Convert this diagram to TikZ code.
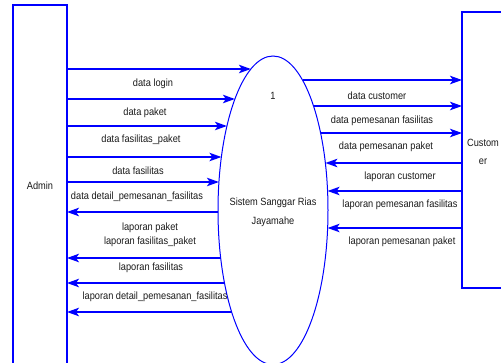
\documentclass[tikz,border=0pt]{standalone}
\usepackage{fontspec}
\setmainfont[FakeStretch=0.88]{Liberation Sans}
\usetikzlibrary{arrows.meta,shapes.geometric}
\definecolor{lineblue}{RGB}{0,0,255}
\definecolor{txt}{RGB}{25,25,25}
\tikzset{
  arr/.style={draw=lineblue,line width=1.5pt,-{Stealth[length=12pt,width=8.5pt,inset=3pt]}},
  lbl/.style={text=txt,font=\fontsize{10.5}{12}\selectfont,inner sep=0pt},
  ent/.style={draw=lineblue,line width=1.2pt}
}
\begin{document}
\begin{tikzpicture}[x=1pt,y=-1pt]
\useasboundingbox (0,0) rectangle (501,362);
\clip (0,0) rectangle (501,362);
% entities
\draw[ent] (13,400) -- (13,5) -- (67,5) -- (67,400);
\coordinate (admin) at (67,5);
\draw[ent] (520,12) -- (462,12) -- (462,288) -- (520,288);
\coordinate (cust) at (462,12);
\node[lbl] (adminlbl) at (40,186) {Admin};
\node[lbl,align=center,font=\fontsize{10.5}{18}\selectfont] (custlbl) at (483,152) {Custom\\er};
% process
\node[draw=lineblue,line width=1pt,ellipse,minimum width=110pt,minimum height=308.6pt,inner sep=0pt] (proc) at (273,210.3) {};
\node[lbl] (pnum) at (273,96) {1};
\node[lbl,align=center,font=\fontsize{10.5}{19}\selectfont] (pname) at (273,212.5) {Sistem Sanggar Rias\\Jayamahe};
% boundary points (left)
\coordinate (l1) at (250.9,69);
\coordinate (l2) at (234.9,99);
\coordinate (l3) at (226.9,126);
\coordinate (l4) at (221.4,157);
\coordinate (l5) at (218.9,182);
\coordinate (l6) at (218.0,212);
\coordinate (l7) at (220.7,258);
\coordinate (l8) at (224.5,283);
\coordinate (l9) at (231.6,312);
% boundary points (right)
\coordinate (r1) at (302.5,80);
\coordinate (r2) at (313.5,106);
\coordinate (r3) at (320.6,133);
\coordinate (r4) at (325.4,163);
\coordinate (r5) at (327.6,191);
\coordinate (r6) at (327.6,228);
% Admin -> process
\draw[arr] (admin |- l1) -- (l1);
\draw[arr] (admin |- l2) -- (l2);
\draw[arr] (admin |- l3) -- (l3);
\draw[arr] (admin |- l4) -- (l4);
\draw[arr] (admin |- l5) -- (l5);
% process -> Admin
\draw[arr] (l6) -- (admin |- l6);
\draw[arr] (l7) -- (admin |- l7);
\draw[arr] (l8) -- (admin |- l8);
\draw[arr] (l9) -- (admin |- l9);
% process -> Customer
\draw[arr] (r1) -- (cust |- r1);
\draw[arr] (r2) -- (cust |- r2);
\draw[arr] (r3) -- (cust |- r3);
% Customer -> process
\draw[arr] (cust |- r4) -- (r4);
\draw[arr] (cust |- r5) -- (r5);
\draw[arr] (cust |- r6) -- (r6);
% labels left
\node[lbl] (t1) at (153,84) {data login};
\node[lbl] (t2) at (145,113) {data paket};
\node[lbl] (t3) at (141,140) {data fasilitas\_paket};
\node[lbl] (t4) at (138,171) {data fasilitas};
\node[lbl] (t5) at (137,197) {data detail\_pemesanan\_fasilitas};
\node[lbl,align=center,font=\fontsize{10.5}{14}\selectfont] (t6) at (150,235) {laporan paket\\laporan fasilitas\_paket};
\node[lbl] (t7) at (151,268) {laporan fasilitas};
\node[lbl] (t8) at (155,297) {laporan detail\_pemesanan\_fasilitas};
% labels right
\node[lbl] (u1) at (377,96) {data customer};
\node[lbl] (u2) at (382,121) {data pemesanan fasilitas};
\node[lbl] (u3) at (386,147) {data pemesanan paket};
\node[lbl] (u4) at (400,177) {laporan customer};
\node[lbl] (u5) at (400,205) {laporan pemesanan fasilitas};
\node[lbl] (u6) at (402,242) {laporan pemesanan paket};
\end{tikzpicture}
\end{document}
